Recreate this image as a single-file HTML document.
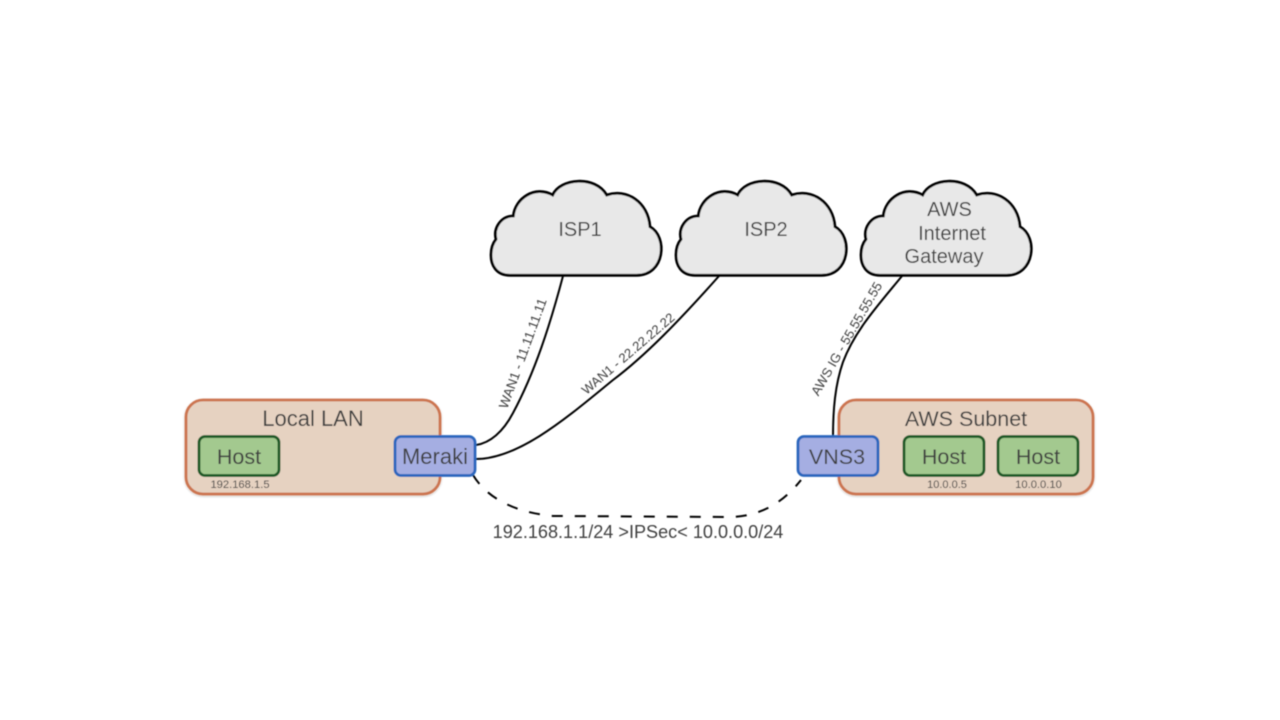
<!DOCTYPE html>
<html>
<head>
<meta charset="utf-8">
<style>
html,body{margin:0;padding:0;background:#fff;}
svg{display:block;}
text{font-family:"Liberation Sans",sans-serif;fill:#404040;text-anchor:middle;}
</style>
</head>
<body>
<svg width="1280" height="720" viewBox="0 0 1280 720" xmlns="http://www.w3.org/2000/svg">
<defs>
<path id="cloud" d="M19,94.300 C5,94.300 0,84 0,74 C0,67 2,62 5,58.300 C2,47 10,35 22.300,35 C24,17.300 44,4 61.700,14 C69,-2.700 104,-6 115.700,14 C135.700,7.300 157,20.700 159,45.700 C177,55.700 174,94.300 145.700,94.300 Z"/>
<filter id="s" x="-10%" y="-10%" width="120%" height="120%"><feGaussianBlur stdDeviation="0.4"/></filter>
<filter id="shadow" x="-5%" y="-5%" width="110%" height="115%"><feDropShadow dx="0" dy="1" stdDeviation="1" flood-color="#000" flood-opacity="0.25"/></filter>
</defs>
<g filter="url(#s)">
<!-- clouds -->
<use href="#cloud" x="491" y="181" fill="#e8e8e8" stroke="#000" stroke-width="2.8"/>
<use href="#cloud" x="676" y="181" fill="#e8e8e8" stroke="#000" stroke-width="2.8"/>
<use href="#cloud" x="861" y="181" fill="#e8e8e8" stroke="#000" stroke-width="2.8"/>

<!-- containers -->
<rect x="186" y="400" width="254" height="94" rx="17" fill="#e6d2c1" stroke="#cc7450" stroke-width="2.800" filter="url(#shadow)"/>
<rect x="839" y="400" width="254" height="94" rx="17" fill="#e6d2c1" stroke="#cc7450" stroke-width="2.800" filter="url(#shadow)"/>

<!-- connectors -->
<path d="M563,276 C550,325 535,372 513,413 C503,432 490,443 476,445" fill="none" stroke="#000" stroke-width="2"/>
<path d="M719,276 C680,320 645,356 613,380 C570,415 520,459 476,459" fill="none" stroke="#000" stroke-width="2"/>
<path d="M902,276 C880,303 855,330 843,362 C835,385 833,410 833,437" fill="none" stroke="#000" stroke-width="2"/>
<path d="M473,475 C485,495 510,512 553,516 L733,517 C765,515 785,500 801,480" fill="none" stroke="#000" stroke-width="2" stroke-dasharray="11 12"/>

<!-- hosts -->
<rect x="199" y="436.500" width="80" height="39" rx="6" fill="#a3c98f" stroke="#1f5a26" stroke-width="2.800"/>
<rect x="904" y="436.500" width="80" height="39" rx="6" fill="#a3c98f" stroke="#1f5a26" stroke-width="2.800"/>
<rect x="998" y="436.500" width="80" height="39" rx="6" fill="#a3c98f" stroke="#1f5a26" stroke-width="2.800"/>

<!-- routers -->
<rect x="395" y="436.500" width="80" height="39" rx="6" fill="#a5aee2" stroke="#2b66bd" stroke-width="2.800"/>
<rect x="798" y="436.500" width="80" height="39" rx="6" fill="#a5aee2" stroke="#2b66bd" stroke-width="2.800"/>

<!-- text -->
<text x="313" y="426" font-size="22">Local LAN</text>
<text x="966" y="426" font-size="21.500">AWS Subnet</text>
<text x="239" y="464" font-size="21.500">Host</text>
<text x="944" y="464" font-size="21.500">Host</text>
<text x="1038" y="464" font-size="21.500">Host</text>
<text x="435" y="464" font-size="22">Meraki</text>
<text x="837" y="464" font-size="21.500">VNS3</text>

<text x="240" y="488" font-size="11.200">192.168.1.5</text>
<text x="947" y="488" font-size="11">10.0.0.5</text>
<text x="1038.500" y="488" font-size="11.200">10.0.0.10</text>

<text x="580" y="236" font-size="20">ISP1</text>
<text x="766" y="236" font-size="20">ISP2</text>
<text x="949.500" y="216" font-size="20">AWS</text>
<text x="952" y="240" font-size="20">Internet</text>
<text x="944" y="263" font-size="20">Gateway</text>

<text x="638" y="538" font-size="18.100">192.168.1.1/24 &gt;IPSec&lt; 10.0.0.0/24</text>

<text transform="translate(527,355) rotate(-70)" font-size="13.300">WAN1 - 11.11.11.11</text>
<text transform="translate(631,357) rotate(-40.500)" font-size="13">WAN1 - 22.22.22.22</text>
<text transform="translate(850.500,341) rotate(-60)" font-size="13.200">AWS IG - 55.55.55.55</text>
</g>
</svg>
</body>
</html>
